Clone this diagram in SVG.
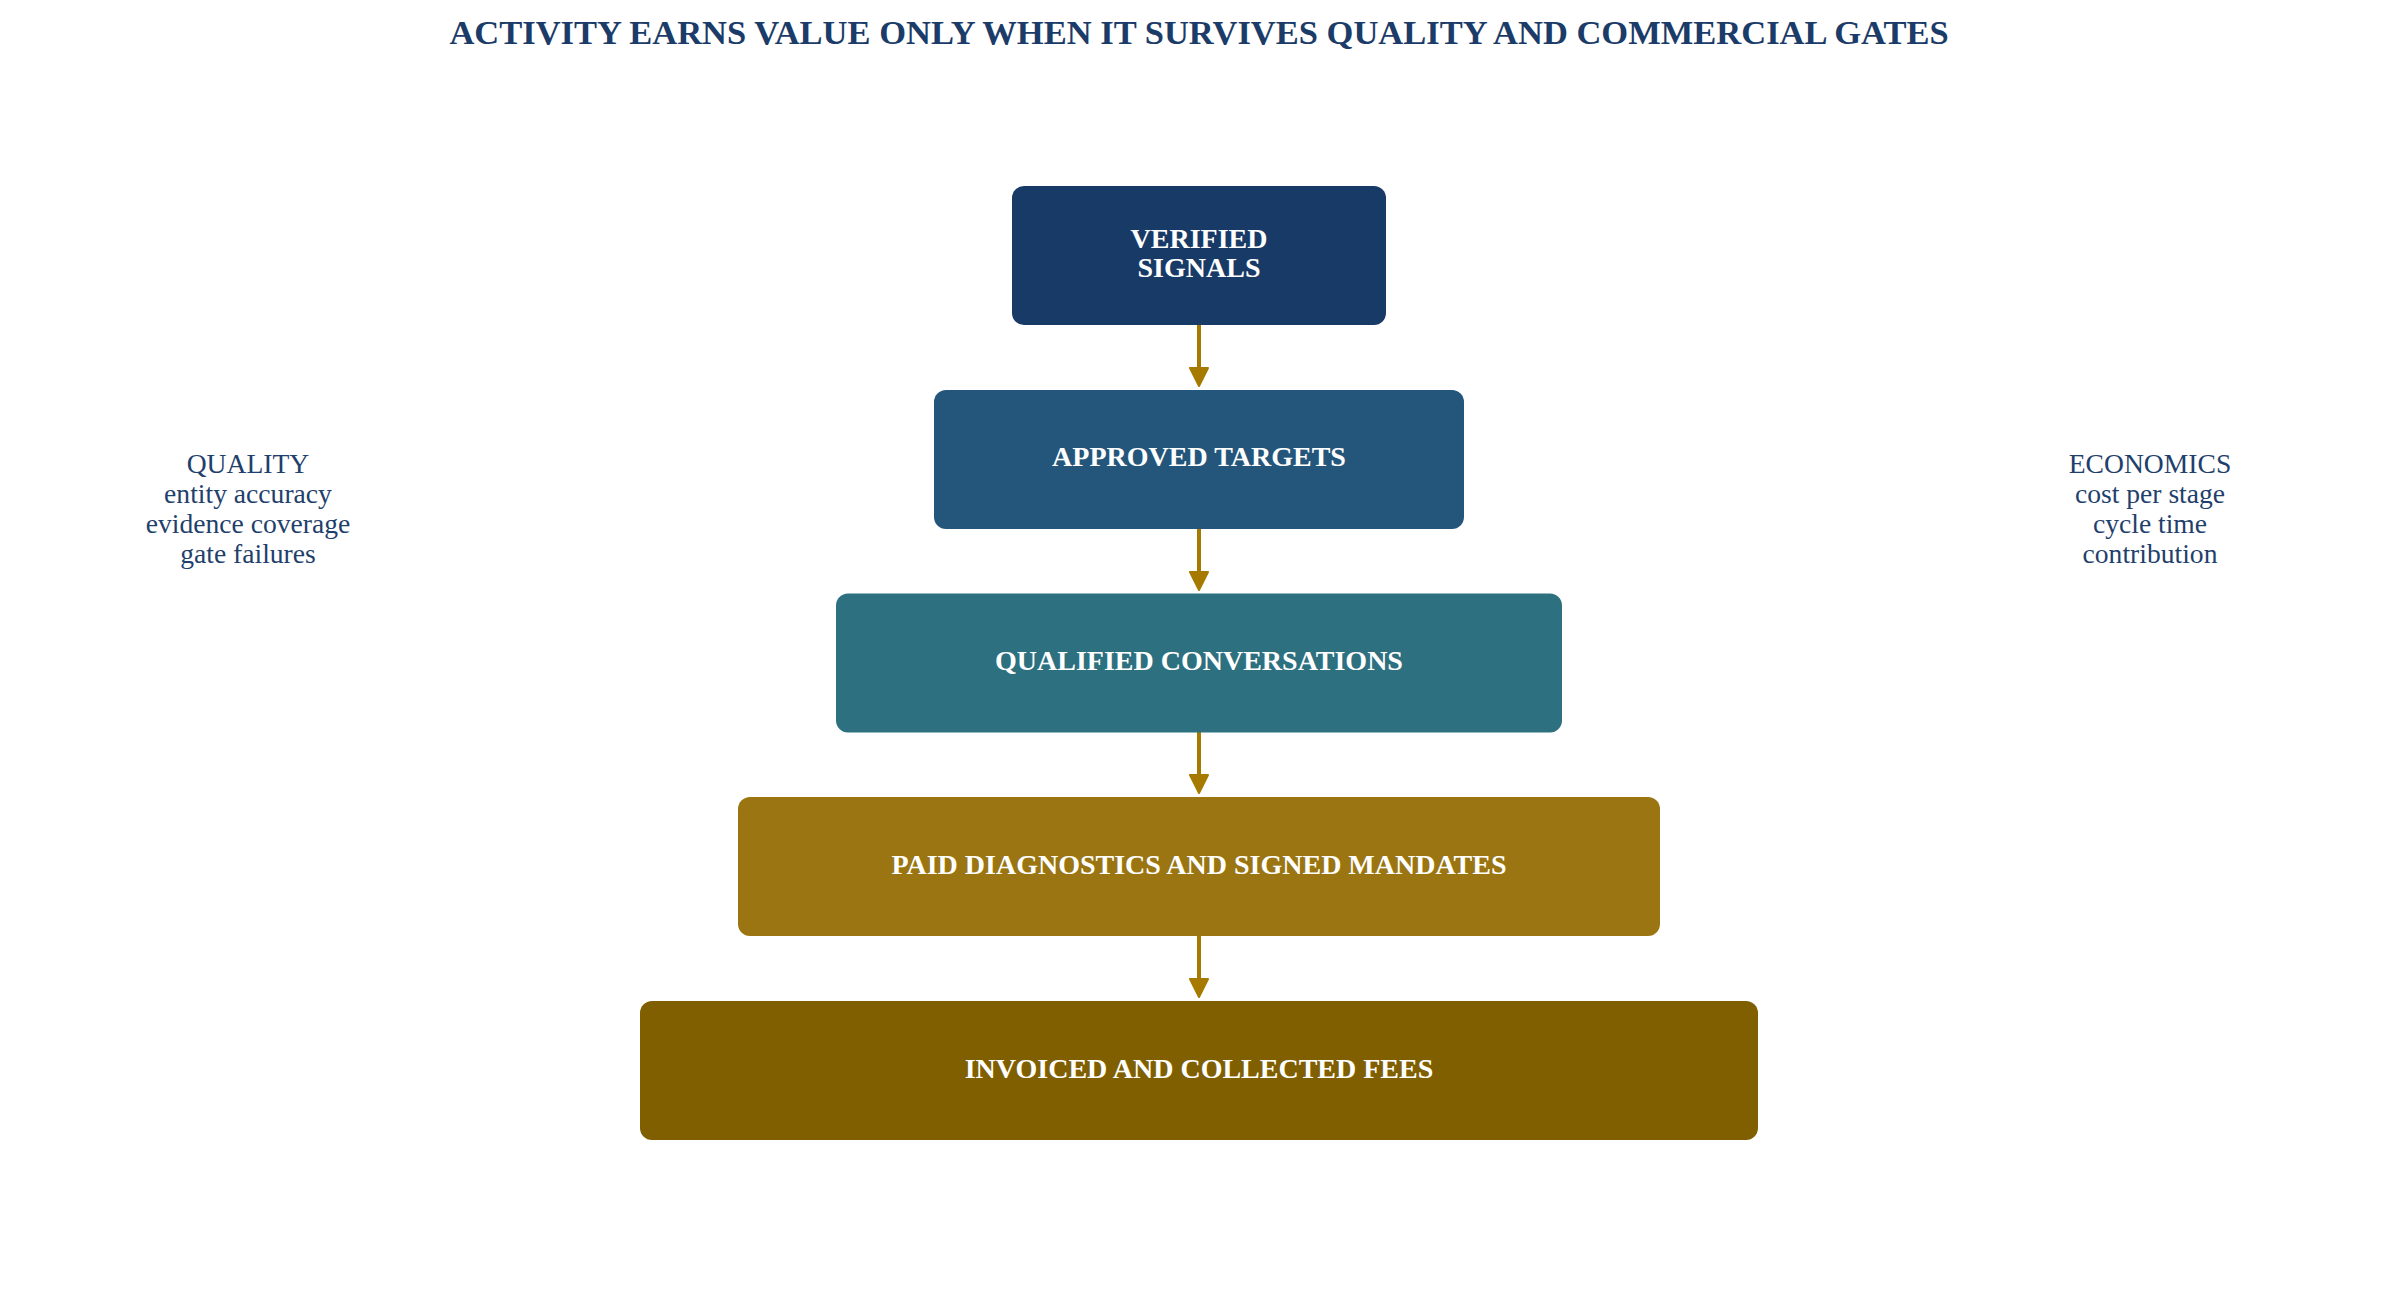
<svg xmlns="http://www.w3.org/2000/svg" width="2398" height="1298" viewBox="0 0 2398 1298">
  <style>
    .title { font-family: "Liberation Serif", "Times New Roman", serif; font-weight: bold; font-size: 34.5px; fill: #1b3b68; text-anchor: middle; }
    .node-label { font-family: "Liberation Serif", "Times New Roman", serif; font-weight: bold; font-size: 28px; fill: #ffffff; text-anchor: middle; }
    .side { font-family: "Liberation Serif", "Times New Roman", serif; font-size: 27.6px; fill: #1f3f6c; text-anchor: middle; }
    .box { stroke: none; }
    .conn { stroke: #a67a00; stroke-width: 4; fill: none; marker-end: url(#arrow); }
  </style>
  <defs>
    <marker id="arrow" markerUnits="userSpaceOnUse" viewBox="0 0 22 22" markerWidth="22" markerHeight="22" refX="3" refY="11" orient="auto">
      <path d="M2,2 L20,11 L2,20 Z" fill="#a67a00" stroke="#a67a00" stroke-width="2" stroke-linejoin="round"/>
    </marker>
  </defs>
  <rect width="2398" height="1298" fill="#ffffff"/>
  <text class="title" x="1199" y="44.3">ACTIVITY EARNS VALUE ONLY WHEN IT SURVIVES QUALITY AND COMMERCIAL GATES</text>

  <g id="connectors">
    <line class="conn" x1="1199" y1="325" x2="1199" y2="369"/>
    <line class="conn" x1="1199" y1="529" x2="1199" y2="573"/>
    <line class="conn" x1="1199" y1="732" x2="1199" y2="776"/>
    <line class="conn" x1="1199" y1="936" x2="1199" y2="980"/>
  </g>

  <g id="node-verified-signals">
    <rect class="box" x="1012" y="186" width="374" height="139" rx="12" fill="#183a66"/>
    <text class="node-label" x="1199" y="247.5">VERIFIED</text>
    <text class="node-label" x="1199" y="277">SIGNALS</text>
  </g>
  <g id="node-approved-targets">
    <rect class="box" x="934" y="390" width="530" height="139" rx="12" fill="#24557b"/>
    <text class="node-label" x="1199" y="466">APPROVED TARGETS</text>
  </g>
  <g id="node-qualified-conversations">
    <rect class="box" x="836" y="593.5" width="726" height="139" rx="12" fill="#2d707f"/>
    <text class="node-label" x="1199" y="669.5">QUALIFIED CONVERSATIONS</text>
  </g>
  <g id="node-paid-diagnostics">
    <rect class="box" x="738" y="797" width="922" height="139" rx="12" fill="#9a7511"/>
    <text class="node-label" x="1199" y="873.5">PAID DIAGNOSTICS AND SIGNED MANDATES</text>
  </g>
  <g id="node-invoiced-fees">
    <rect class="box" x="640" y="1001" width="1118" height="139" rx="12" fill="#805f00"/>
    <text class="node-label" x="1199" y="1077.5">INVOICED AND COLLECTED FEES</text>
  </g>

  <g id="note-quality">
    <text class="side" x="248" y="473">QUALITY</text>
    <text class="side" x="248" y="503">entity accuracy</text>
    <text class="side" x="248" y="533">evidence coverage</text>
    <text class="side" x="248" y="563">gate failures</text>
  </g>
  <g id="note-economics">
    <text class="side" x="2150" y="473">ECONOMICS</text>
    <text class="side" x="2150" y="503">cost per stage</text>
    <text class="side" x="2150" y="533">cycle time</text>
    <text class="side" x="2150" y="563">contribution</text>
  </g>
</svg>
